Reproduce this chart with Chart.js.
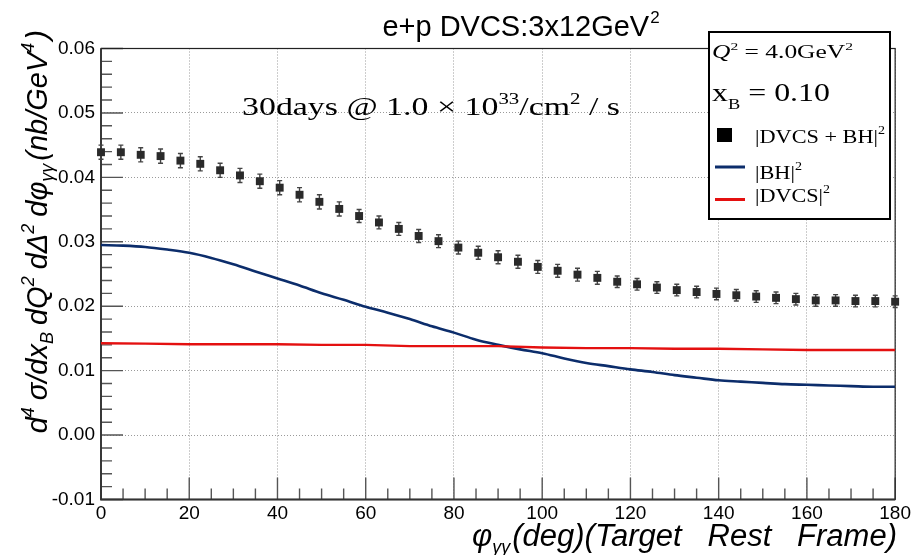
<!DOCTYPE html>
<html><head><meta charset="utf-8">
<script src="https://cdn.jsdelivr.net/npm/chart.js@4/dist/chart.umd.min.js"></script>
<style>html,body{margin:0;padding:0;background:#fff;overflow:hidden}#wrap{width:914px;height:555px}</style>
</head><body><div id="wrap"><canvas id="c" width="914" height="555"></canvas></div>
<script>
const phiPoints = [0,4.5,9,13.5,18,22.5,27,31.5,36,40.5,45,49.5,54,58.5,63,67.5,72,76.5,81,85.5,90,94.5,99,103.5,108,112.5,117,121.5,126,130.5,135,139.5,144,148.5,153,157.5,162,166.5,171,175.5,180];
const sigmaTotal = [0.0439,0.0439,0.0435,0.0433,0.0426,0.0421,0.0411,0.0403,0.0394,0.0384,0.0373,0.0362,0.0351,0.0340,0.0330,0.0320,0.0309,0.0301,0.0291,0.0283,0.0276,0.0269,0.0261,0.0255,0.0249,0.0244,0.0238,0.0234,0.0229,0.0225,0.0222,0.0219,0.0217,0.0215,0.0213,0.0211,0.0209,0.0209,0.0208,0.0208,0.0207];
const sigmaErr = [0.0011,0.0011,0.0011,0.0011,0.0011,0.0011,0.0011,0.0011,0.0011,0.0011,0.0011,0.0011,0.0011,0.0010,0.0010,0.0010,0.0010,0.0010,0.0010,0.0010,0.0010,0.0010,0.0010,0.0010,0.0010,0.0010,0.0009,0.0009,0.0009,0.0009,0.0009,0.0009,0.0009,0.0009,0.0009,0.0009,0.0009,0.0009,0.0009,0.0009,0.0009];
const phiBH = [0,5,10,15,20,25,30,35,40,45,50,55,60,65,70,75,80,85,90,95,100,105,110,115,120,125,130,135,140,145,150,155,160,165,170,175,180];
const sigmaBH = [0.0295,0.0294,0.0292,0.0288,0.0283,0.0275,0.0265,0.0254,0.0243,0.0232,0.0220,0.0210,0.0199,0.0190,0.0180,0.0169,0.0159,0.0148,0.0140,0.0133,0.0127,0.0119,0.0112,0.0107,0.0102,0.0098,0.0093,0.0089,0.0085,0.0083,0.0081,0.0079,0.0078,0.0077,0.0076,0.0075,0.0075];
const phiDVCS = [0,10,20,30,40,50,60,70,80,90,100,110,120,130,140,150,160,170,180];
const sigmaDVCS = [0.01425,0.0142,0.0141,0.0141,0.0141,0.0140,0.0140,0.0138,0.0138,0.0138,0.0136,0.0135,0.0135,0.0134,0.0134,0.0133,0.0132,0.0132,0.0132];
const xTickValues = [0,20,40,60,80,100,120,140,160,180];
const yTickValues = [-0.01,0,0.01,0.02,0.03,0.04,0.05,0.06];

function fontOf(s){return (s.it?'italic ':'')+s.size+'px "'+(s.fam||'Liberation Sans')+'"';}
function drawRich(ctx, segs, x, y, align, fitW){
  const widths = segs.map(s=>{ctx.font=fontOf(s);return ctx.measureText(s.t).width+(s.gap||0);});
  const w = widths.reduce((a,b)=>a+b,0);
  const sx = fitW ? fitW/w : 1;
  const tw = w*sx;
  const sx0 = align==='right'? x-tw : align==='center'? x-tw/2 : x;
  ctx.save(); ctx.translate(sx0,y); ctx.scale(sx,1);
  ctx.textAlign='left'; ctx.textBaseline='alphabetic';
  let cx=0;
  segs.forEach((s,i)=>{ctx.font=fontOf(s);ctx.fillStyle=s.color||'#000';ctx.fillText(s.t,cx,s.dy||0);cx+=widths[i];});
  ctx.restore();
  return tw;
}

const framePlugin = {
  id:'frame',
  beforeDatasetsDraw(chart){
    const {ctx, chartArea:a, scales:{x,y}} = chart;
    ctx.save();
    ctx.strokeStyle='#555'; ctx.lineWidth=1.4;
    ctx.beginPath();
    for(let v=0; v<=180.001; v+=5){
      const px=x.getPixelForValue(v);
      const major = xTickValues.some(t=>Math.abs(t-v)<1e-6);
      ctx.moveTo(px,a.bottom); ctx.lineTo(px,a.bottom-(major?22:11));
    }
    for(let k=-5;k<=30;k++){
      const v=k*0.002;
      const py=y.getPixelForValue(v);
      const major = yTickValues.some(t=>Math.abs(t-v)<1e-9);
      ctx.moveTo(a.left,py); ctx.lineTo(a.left+(major?22:11),py);
    }
    ctx.stroke();
    ctx.strokeStyle='#222'; ctx.lineWidth=1.2;
    ctx.strokeRect(a.left,a.top,a.right-a.left,a.bottom-a.top);
    ctx.lineWidth=1.8; ctx.strokeStyle='#333';
    ctx.beginPath(); ctx.moveTo(a.left,a.top); ctx.lineTo(a.left,a.bottom); ctx.lineTo(a.right,a.bottom); ctx.stroke();
    ctx.strokeStyle='#444'; ctx.lineWidth=1.4;
    ctx.beginPath();
    phiPoints.forEach((p,i)=>{
      const px=x.getPixelForValue(p);
      const t=y.getPixelForValue(sigmaTotal[i]+sigmaErr[i]);
      const b=y.getPixelForValue(sigmaTotal[i]-sigmaErr[i]);
      ctx.moveTo(px,t); ctx.lineTo(px,b);
      ctx.moveTo(px-2.5,t); ctx.lineTo(px+2.5,t);
      ctx.moveTo(px-2.5,b); ctx.lineTo(px+2.5,b);
    });
    ctx.stroke();
    ctx.restore();
  },
  afterDraw(chart){
    const ctx = chart.ctx;
    ctx.save();
    drawRich(ctx,[{t:'e+p DVCS:3x12GeV',size:29,gap:1},{t:'2',size:17,dy:-13}],521,36,'center');
    ctx.save(); ctx.translate(47,30); ctx.rotate(-Math.PI/2);
    const S=29, s2=18, g=7;
    drawRich(ctx,[
      {t:'d',size:S,it:1},{t:'4',size:s2,dy:-13,it:1,gap:g},{t:'σ/dx',size:S,it:1},{t:'B',size:s2,dy:6,it:1,gap:g},
      {t:'dQ',size:S,it:1},{t:'2',size:s2,dy:-13,it:1,gap:g},{t:'dΔ',size:S,it:1},{t:'2',size:s2,dy:-13,it:1,gap:g},
      {t:'dφ',size:S,it:1},{t:'γγ',size:s2,dy:6,it:1,gap:3},{t:'(nb/GeV',size:S,it:1},{t:'4',size:s2,dy:-13,it:1,gap:3},{t:')',size:S,it:1}
    ],0,0,'right');
    ctx.restore();
    drawRich(ctx,[{t:'φ',size:31,it:1},{t:'γγ',size:18,dy:7,it:1,gap:2},{t:'(deg)(Target   Rest   Frame)',size:31,it:1}],897,546,'right');
    const F='Liberation Serif';
    drawRich(ctx,[{t:'30days @ 1.0 × 10',size:26,fam:F},{t:'33',size:16,dy:-11,fam:F},{t:'/cm',size:26,fam:F},{t:'2',size:16,dy:-11,fam:F},{t:' / s',size:26,fam:F}],242,115,'left',378);
    ctx.fillStyle='#fff'; ctx.fillRect(709,32,181,187);
    ctx.strokeStyle='#000'; ctx.lineWidth=2; ctx.strokeRect(709,32,181,187);
    drawRich(ctx,[{t:'Q',size:18,fam:F,it:1},{t:'2',size:11,dy:-8,fam:F},{t:' = 4.0GeV',size:18,fam:F},{t:'2',size:11,dy:-8,fam:F}],712,58,'left',141);
    drawRich(ctx,[{t:'x',size:26,fam:F},{t:'B',size:15,dy:8,fam:F},{t:' = 0.10',size:26,fam:F}],712,101,'left',118);
    ctx.fillStyle='#000'; ctx.fillRect(717,128,15,14);
    drawRich(ctx,[{t:'|DVCS + BH|',size:19,fam:F},{t:'2',size:12,dy:-9,fam:F}],755,143,'left',130);
    ctx.lineWidth=3; ctx.strokeStyle='#0c2d6b'; ctx.beginPath(); ctx.moveTo(715,167); ctx.lineTo(745,167); ctx.stroke();
    drawRich(ctx,[{t:'|BH|',size:19,fam:F},{t:'2',size:12,dy:-9,fam:F}],755,179,'left',47);
    ctx.strokeStyle='#e41010'; ctx.beginPath(); ctx.moveTo(715,199.5); ctx.lineTo(745,199.5); ctx.stroke();
    drawRich(ctx,[{t:'|DVCS|',size:19,fam:F},{t:'2',size:12,dy:-9,fam:F}],755,202,'left',75);
    ctx.restore();
  }
};

new Chart(document.getElementById('c').getContext('2d'),{
  type:'scatter',
  data:{datasets:[
    {label:'|BH|²',data:phiBH.map((v,i)=>({x:v,y:sigmaBH[i]})),showLine:true,borderColor:'#0c2d6b',borderWidth:2.6,pointRadius:0,cubicInterpolationMode:'monotone',order:2},
    {label:'|DVCS|²',data:phiDVCS.map((v,i)=>({x:v,y:sigmaDVCS[i]})),showLine:true,borderColor:'#e41010',borderWidth:2.4,pointRadius:0,order:1},
    {label:'|DVCS + BH|²',data:phiPoints.map((v,i)=>({x:v,y:sigmaTotal[i]})),pointStyle:'rect',pointRadius:5.6,backgroundColor:'#2a2a2a',borderWidth:0,clip:false,order:0}
  ]},
  options:{
    responsive:false,animation:false,devicePixelRatio:1,
    layout:{padding:{top:48.5,right:17,left:0,bottom:0}},
    plugins:{legend:{display:false},tooltip:{enabled:false},title:{display:false}},
    scales:{
      x:{type:'linear',min:0,max:180,
        afterBuildTicks:s=>{s.ticks=xTickValues.map(v=>({value:v}));},
        afterFit:s=>{s.height=55.5;},
        ticks:{font:{family:'Liberation Sans',size:19},color:'#000',padding:3,maxRotation:0,autoSkip:false,callback:v=>String(v)},
        grid:{color:'#9a9a9a',lineWidth:1,drawTicks:false},border:{display:false,dash:[1,2]}},
      y:{type:'linear',min:-0.01,max:0.06,
        afterBuildTicks:s=>{s.ticks=yTickValues.map(v=>({value:v}));},
        afterFit:s=>{s.width=101;},
        ticks:{font:{family:'Liberation Sans',size:19},color:'#000',padding:6,autoSkip:false,callback:v=>Number(v).toFixed(2)},
        grid:{color:'#9a9a9a',lineWidth:1,drawTicks:false},border:{display:false,dash:[1,2]}}
    }
  },
  plugins:[framePlugin]
});
</script></body></html>
